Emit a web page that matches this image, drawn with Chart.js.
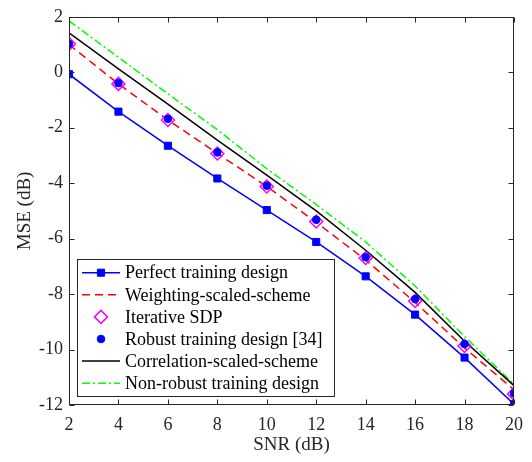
<!DOCTYPE html>
<html>
<head>
<meta charset="utf-8">
<script src="https://cdn.jsdelivr.net/npm/chart.js@4/dist/chart.umd.min.js"></script>
<style>
  html, body { margin: 0; padding: 0; background: #fff; }
</style>
</head>
<body>
<canvas id="chart" width="532" height="462"></canvas>
<script>
// SNR (dB) on the x axis, MSE (dB) on the y axis
var snr = [2, 4, 6, 8, 10, 12, 14, 16, 18, 20];
var perfect     = [-0.07, -1.42, -2.65, -3.83, -4.97, -6.12, -7.36, -8.74, -10.29, -11.97];
var weighting   = [1.00, -0.42, -1.72, -2.93, -4.12, -5.41, -6.77, -8.30, -9.94, -11.45];
var iterSDP     = [1.02, -0.42, -1.72, -2.93, -4.12, -5.38, -6.70, -8.25, -9.87, -11.60];
var robust      = [1.02, -0.39, -1.68, -2.89, -4.09, -5.32, -6.67, -8.18, -9.80, -11.58];
var correlation = [1.42, 0.12, -1.15, -2.45, -3.71, -5.00, -6.42, -7.94, -9.70, -11.30];
var nonRobust   = [1.85, 0.54, -0.78, -2.07, -3.48, -4.77, -6.12, -7.71, -9.53, -11.25];
var xTicks = [2, 4, 6, 8, 10, 12, 14, 16, 18, 20];
var yTicks = [-12, -10, -8, -6, -4, -2, 0, 2];

function pts(ys) {
  return snr.map(function (x, i) { return { x: x, y: ys[i] }; });
}

var FONT = '"Liberation Serif", "Times New Roman", serif';

// box + inward tick marks, matlab style
var frame = {
  id: 'frame',
  afterDatasetsDraw: function (chart) {
    var ctx = chart.ctx, a = chart.chartArea;
    var sx = chart.scales.x, sy = chart.scales.y;
    var L = Math.round(a.left) + 0.5, R = Math.round(a.right) - 0.5;
    var T = Math.round(a.top) + 0.5, B = Math.round(a.bottom) - 0.5;
    ctx.save();
    ctx.strokeStyle = '#262626';
    ctx.lineWidth = 1;
    ctx.strokeRect(L, T, R - L, B - T);
    ctx.beginPath();
    xTicks.forEach(function (v) {
      var px = Math.round(sx.getPixelForValue(v)) + 0.5;
      ctx.moveTo(px, B); ctx.lineTo(px, B - 5);
      ctx.moveTo(px, T); ctx.lineTo(px, T + 5);
    });
    yTicks.forEach(function (v) {
      var py = Math.round(sy.getPixelForValue(v)) + 0.5;
      ctx.moveTo(L, py); ctx.lineTo(L + 5, py);
      ctx.moveTo(R, py); ctx.lineTo(R - 5, py);
    });
    ctx.stroke();
    ctx.restore();
  }
};

// legend box inside the plot, lower left
var boxLegend = {
  id: 'boxLegend',
  afterDraw: function (chart) {
    var ctx = chart.ctx;
    var bx = 77.5, by = 259.5, bw = 257, bh = 137;
    ctx.save();
    ctx.fillStyle = '#fff';
    ctx.fillRect(bx, by, bw, bh);
    ctx.strokeStyle = '#262626';
    ctx.lineWidth = 1;
    ctx.strokeRect(bx, by, bw, bh);
    chart.data.datasets.forEach(function (ds, i) {
      var y = 272.7 + i * 22.1;
      if (ds.showLine !== false) {
        ctx.save();
        ctx.strokeStyle = ds.borderColor;
        ctx.lineWidth = ds.borderWidth;
        ctx.setLineDash(ds.borderDash || []);
        ctx.beginPath();
        ctx.moveTo(82, y);
        ctx.lineTo(120, y);
        ctx.stroke();
        ctx.restore();
      }
      if (ds.pointRadius > 0) {
        ctx.save();
        ctx.fillStyle = ds.pointBackgroundColor;
        ctx.strokeStyle = ds.pointBorderColor;
        ctx.lineWidth = ds.pointBorderWidth;
        Chart.helpers.drawPoint(ctx, {
          pointStyle: ds.pointStyle,
          radius: ds.pointRadius,
          rotation: 0,
          borderWidth: ds.pointBorderWidth
        }, 101, y);
        ctx.restore();
      }
      ctx.fillStyle = '#000';
      ctx.font = '18px ' + FONT;
      ctx.textBaseline = 'middle';
      ctx.textAlign = 'left';
      ctx.fillText(ds.label, 125, y + 1);
    });
    ctx.restore();
  }
};

var ctx = document.getElementById('chart').getContext('2d');
var chart = new Chart(ctx, {
  type: 'line',
  data: {
    datasets: [{
      label: 'Perfect training design',
      data: pts(perfect),
      borderColor: '#0000ff',
      borderWidth: 1.5,
      pointStyle: 'rect',
      pointRadius: 5,
      pointBackgroundColor: '#0000ff',
      pointBorderColor: '#0000ff',
      pointBorderWidth: 1,
      order: 3
    }, {
      label: 'Weighting-scaled-scheme',
      data: pts(weighting),
      borderColor: '#ff0000',
      borderWidth: 1.5,
      borderDash: [8, 5],
      pointRadius: 0,
      order: 4
    }, {
      label: 'Iterative SDP',
      data: pts(iterSDP),
      showLine: false,
      borderColor: '#ff00ff',
      borderWidth: 1.5,
      pointStyle: 'rectRot',
      pointRadius: 6.5,
      pointBackgroundColor: 'rgba(0,0,0,0)',
      pointBorderColor: '#ff00ff',
      pointBorderWidth: 1.5,
      order: 1
    }, {
      label: 'Robust training design [34]',
      data: pts(robust),
      showLine: false,
      borderColor: '#0000ff',
      borderWidth: 1,
      pointStyle: 'circle',
      pointRadius: 3.8,
      pointBackgroundColor: '#0000ff',
      pointBorderColor: '#0000ff',
      pointBorderWidth: 1,
      order: 0
    }, {
      label: 'Correlation-scaled-scheme',
      data: pts(correlation),
      borderColor: '#000000',
      borderWidth: 1.5,
      pointRadius: 0,
      order: 5
    }, {
      label: 'Non-robust training design',
      data: pts(nonRobust),
      borderColor: '#00ff00',
      borderWidth: 1.5,
      borderDash: [8, 3, 2, 3],
      pointRadius: 0,
      order: 6
    }]
  },
  options: {
    responsive: false,
    animation: false,
    devicePixelRatio: 1,
    layout: { padding: { left: 0, top: 8, right: 16, bottom: 0 } },
    plugins: {
      legend: { display: false },
      tooltip: { enabled: false }
    },
    scales: {
      x: {
        type: 'linear',
        min: 2,
        max: 20,
        afterBuildTicks: function (s) { s.ticks = xTicks.map(function (v) { return { value: v }; }); },
        afterFit: function (s) { s.height = 57; },
        grid: { display: false, drawTicks: false },
        border: { display: false },
        ticks: { color: '#262626', padding: 9, font: { family: FONT, size: 18 }, maxRotation: 0 },
        title: { display: true, text: 'SNR (dB)', color: '#262626', font: { family: FONT, size: 19 }, padding: { top: 0, bottom: 6 } }
      },
      y: {
        min: -12,
        max: 2,
        afterBuildTicks: function (s) { s.ticks = yTicks.map(function (v) { return { value: v }; }); },
        afterFit: function (s) { s.width = 69; },
        grid: { display: false, drawTicks: false },
        border: { display: false },
        ticks: { color: '#262626', padding: 6, font: { family: FONT, size: 18 } },
        title: { display: true, text: 'MSE (dB)', color: '#262626', font: { family: FONT, size: 19 }, padding: { top: 14, bottom: 0 } }
      }
    }
  },
  plugins: [frame, boxLegend]
});
</script>
</body>
</html>
